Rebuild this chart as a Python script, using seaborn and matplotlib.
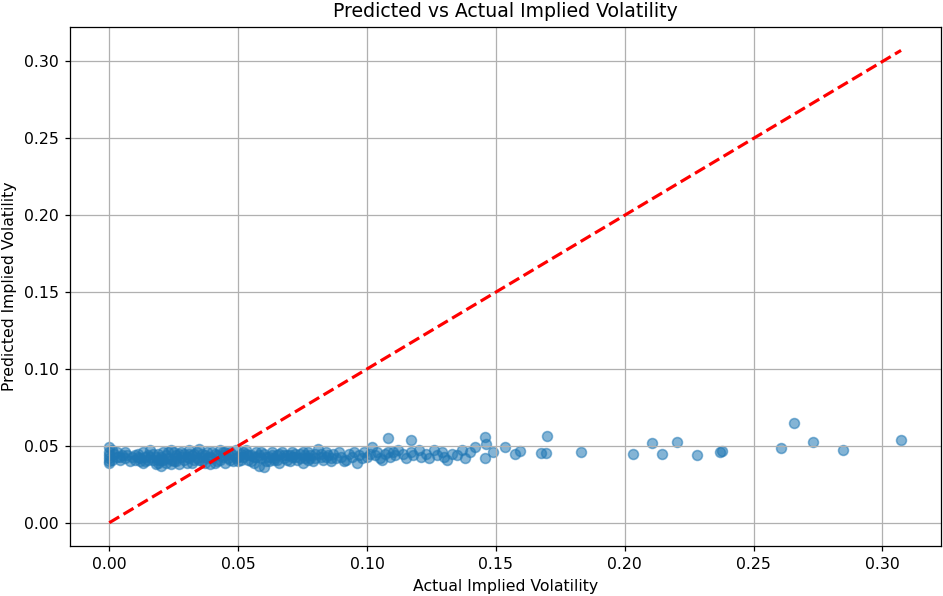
import numpy as np
import pandas as pd
import matplotlib.pyplot as plt
import seaborn as sns

# values (actual IV, predicted IV)
actual_low = [0.000, 0.000, 0.000, 0.000, 0.000, 0.000, 0.002, 0.003, 0.004, 0.006, 0.006, 0.008,
              0.009, 0.010, 0.011, 0.012, 0.013, 0.014, 0.015, 0.016, 0.017, 0.018, 0.019, 0.020,
              0.020, 0.021, 0.022, 0.023, 0.024, 0.025, 0.026, 0.027, 0.028, 0.029, 0.030, 0.031,
              0.032, 0.033, 0.034, 0.035, 0.036, 0.037, 0.038, 0.039, 0.040, 0.041, 0.042, 0.043,
              0.044, 0.045, 0.046, 0.047, 0.048, 0.049, 0.005, 0.013, 0.019, 0.027, 0.033, 0.041,
              0.045, 0.016, 0.024, 0.038]
pred_low = [0.049, 0.046, 0.044, 0.042, 0.040, 0.039, 0.045, 0.043, 0.041, 0.046, 0.042, 0.040,
            0.043, 0.041, 0.045, 0.042, 0.046, 0.040, 0.044, 0.047, 0.041, 0.038, 0.045, 0.037,
            0.043, 0.046, 0.039, 0.042, 0.047, 0.040, 0.044, 0.038, 0.046, 0.041, 0.043, 0.047,
            0.039, 0.045, 0.042, 0.048, 0.040, 0.044, 0.046, 0.038, 0.042, 0.045, 0.040, 0.047,
            0.043, 0.039, 0.045, 0.041, 0.044, 0.047, 0.044, 0.039, 0.041, 0.045, 0.041, 0.039,
            0.046, 0.043, 0.038, 0.042]

# extra points filling the solid band near zero
actual_dense = [0.001, 0.001, 0.003, 0.004, 0.007, 0.010, 0.012, 0.014, 0.015, 0.017, 0.018, 0.019,
                0.021, 0.022, 0.023, 0.024, 0.025, 0.026, 0.028, 0.029, 0.030, 0.031, 0.032, 0.034,
                0.035, 0.036, 0.037, 0.039, 0.040, 0.042, 0.043, 0.044, 0.046, 0.047, 0.048, 0.050,
                0.051, 0.052, 0.054, 0.055, 0.056, 0.058, 0.059, 0.061, 0.062, 0.063, 0.065, 0.066,
                0.068, 0.069, 0.071, 0.072, 0.074, 0.075, 0.077, 0.078, 0.080, 0.082, 0.084, 0.086,
                0.011, 0.020, 0.026, 0.031, 0.036, 0.044, 0.049, 0.053, 0.057, 0.064, 0.070, 0.076]
pred_dense = [0.047, 0.041, 0.046, 0.043, 0.044, 0.044, 0.040, 0.043, 0.041, 0.045, 0.043, 0.039,
              0.041, 0.044, 0.046, 0.041, 0.046, 0.040, 0.043, 0.045, 0.039, 0.042, 0.044, 0.046,
              0.041, 0.045, 0.039, 0.043, 0.046, 0.044, 0.041, 0.046, 0.042, 0.046, 0.040, 0.043,
              0.041, 0.046, 0.044, 0.040, 0.043, 0.044, 0.046, 0.043, 0.040, 0.044, 0.041, 0.045,
              0.044, 0.041, 0.043, 0.045, 0.042, 0.046, 0.041, 0.044, 0.042, 0.045, 0.043, 0.042,
              0.043, 0.041, 0.042, 0.045, 0.043, 0.044, 0.042, 0.045, 0.043, 0.042, 0.044, 0.042]

actual_mid = [0.050, 0.051, 0.052, 0.053, 0.054, 0.055, 0.056, 0.057, 0.058, 0.059, 0.060, 0.060,
              0.061, 0.062, 0.063, 0.064, 0.065, 0.066, 0.067, 0.068, 0.069, 0.070, 0.071, 0.072,
              0.073, 0.074, 0.075, 0.076, 0.077, 0.078, 0.079, 0.080, 0.081, 0.082, 0.083, 0.084,
              0.085, 0.086, 0.087, 0.088, 0.089, 0.090, 0.091, 0.092, 0.093, 0.094, 0.095, 0.096,
              0.097, 0.098, 0.099, 0.100]
pred_mid = [0.040, 0.045, 0.043, 0.047, 0.041, 0.044, 0.039, 0.046, 0.037, 0.042, 0.036, 0.045,
            0.040, 0.043, 0.046, 0.041, 0.044, 0.039, 0.046, 0.042, 0.044, 0.040, 0.046, 0.043,
            0.041, 0.045, 0.039, 0.044, 0.046, 0.042, 0.040, 0.045, 0.048, 0.043, 0.041, 0.046,
            0.044, 0.040, 0.045, 0.042, 0.046, 0.043, 0.040, 0.041, 0.045, 0.043, 0.046, 0.039,
            0.044, 0.042, 0.046, 0.043]

actual_high = [0.101, 0.102, 0.103, 0.104, 0.105, 0.106, 0.107, 0.108, 0.108, 0.109, 0.110, 0.111,
               0.112, 0.114, 0.115, 0.117, 0.117, 0.118, 0.120, 0.121, 0.123, 0.124, 0.126, 0.127,
               0.129, 0.130, 0.131, 0.133, 0.135, 0.137, 0.138, 0.140, 0.142]
pred_high = [0.045, 0.049, 0.044, 0.046, 0.042, 0.041, 0.045, 0.055, 0.046, 0.043, 0.046, 0.044,
             0.047, 0.045, 0.042, 0.054, 0.046, 0.044, 0.047, 0.043, 0.045, 0.042, 0.047, 0.044,
             0.046, 0.043, 0.041, 0.045, 0.044, 0.047, 0.042, 0.046, 0.049]

actual_tail = [0.1456, 0.1462, 0.1456, 0.1488, 0.1537, 0.1575, 0.1592, 0.1676, 0.1695, 0.1698,
               0.1829, 0.2033, 0.2107, 0.2146, 0.2204, 0.2282, 0.2369, 0.2378, 0.2608, 0.2656,
               0.2731, 0.2845, 0.3072]
pred_tail = [0.0555, 0.0511, 0.0424, 0.0463, 0.0494, 0.0446, 0.0467, 0.0452, 0.0452, 0.0565,
             0.0463, 0.0450, 0.0516, 0.0450, 0.0526, 0.0439, 0.0463, 0.0467, 0.0485, 0.0648,
             0.0522, 0.0472, 0.0537]

df = pd.DataFrame({
    "actual": actual_low + actual_dense + actual_mid + actual_high + actual_tail,
    "predicted": pred_low + pred_dense + pred_mid + pred_high + pred_tail,
})

dpi = 113
plt.figure(figsize=(943 / dpi, 596 / dpi), dpi=dpi)
sns.scatterplot(data=df, x="actual", y="predicted", s=40, alpha=0.55,
                color="#1f77b4", edgecolor="#1f77b4", linewidth=1)

lo, hi = df["actual"].min(), df["actual"].max()
plt.plot([lo, hi], [lo, hi], "r--", lw=2)

plt.title("Predicted vs Actual Implied Volatility")
plt.xlabel("Actual Implied Volatility")
plt.ylabel("Predicted Implied Volatility")
plt.grid(True)

plt.tight_layout(pad=0.15)
plt.savefig("out.png", dpi=dpi)
